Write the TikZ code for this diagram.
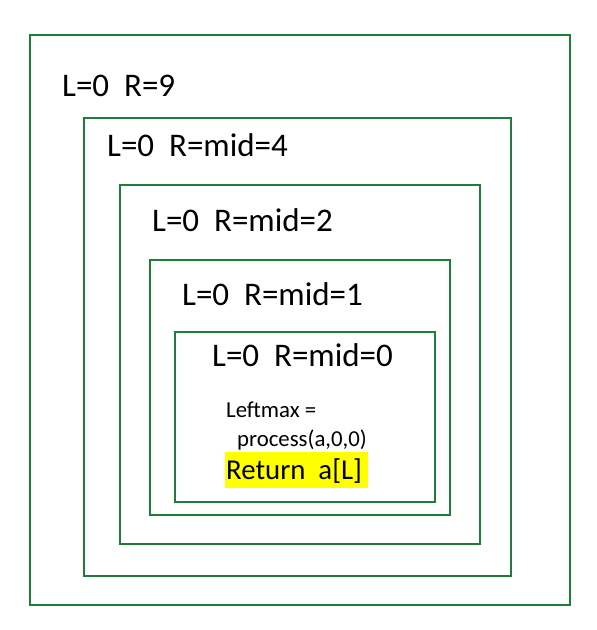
\documentclass[tikz,border=0pt]{standalone}
\usepackage{fontspec}
\setmainfont{Carlito}
\definecolor{boxgreen}{RGB}{30,125,56}
\definecolor{hlyellow}{RGB}{255,255,0}
\begin{document}
\begin{tikzpicture}[x=1pt,y=-1pt,
  frame/.style={draw=boxgreen,line width=2.6pt},
  lbl/.style={anchor=base west,inner sep=0pt,font=\fontsize{33}{39}\selectfont},
  code/.style={anchor=base west,inner sep=0pt,font=\fontsize{22.8}{27}\selectfont},
  ret/.style={anchor=base west,inner xsep=1pt,inner ysep=0pt,fill=hlyellow,text height=27pt,text depth=9pt,font=\fontsize{28.8}{34}\selectfont}]
\useasboundingbox (0,0) rectangle (597,630);
\draw[frame] (30,35) rectangle (570,605);
\draw[frame] (84,118) rectangle (511,576);
\draw[frame] (120,185) rectangle (480,544);
\draw[frame] (150,260) rectangle (450,515);
\draw[frame] (175,332) rectangle (435,502);
\node[lbl] (t1) at (62,96) {L=0\ \ R=9};
\node[lbl] (t2) at (107,156) {L=0\ \ R=mid=4};
\node[lbl] (t3) at (152,231) {L=0\ \ R=mid=2};
\node[lbl] (t4) at (182,305) {L=0\ \ R=mid=1};
\node[lbl] (t5) at (212,366) {L=0\ \ R=mid=0};
\node[code] (c1) at (226,417) {Leftmax =};
\node[code] (c2) at (237,446) {process(a,0,0)};
\node[ret] (r) at (225,479) {\makebox[141pt][l]{Return\ \ a[L]}};
\end{tikzpicture}
\end{document}
